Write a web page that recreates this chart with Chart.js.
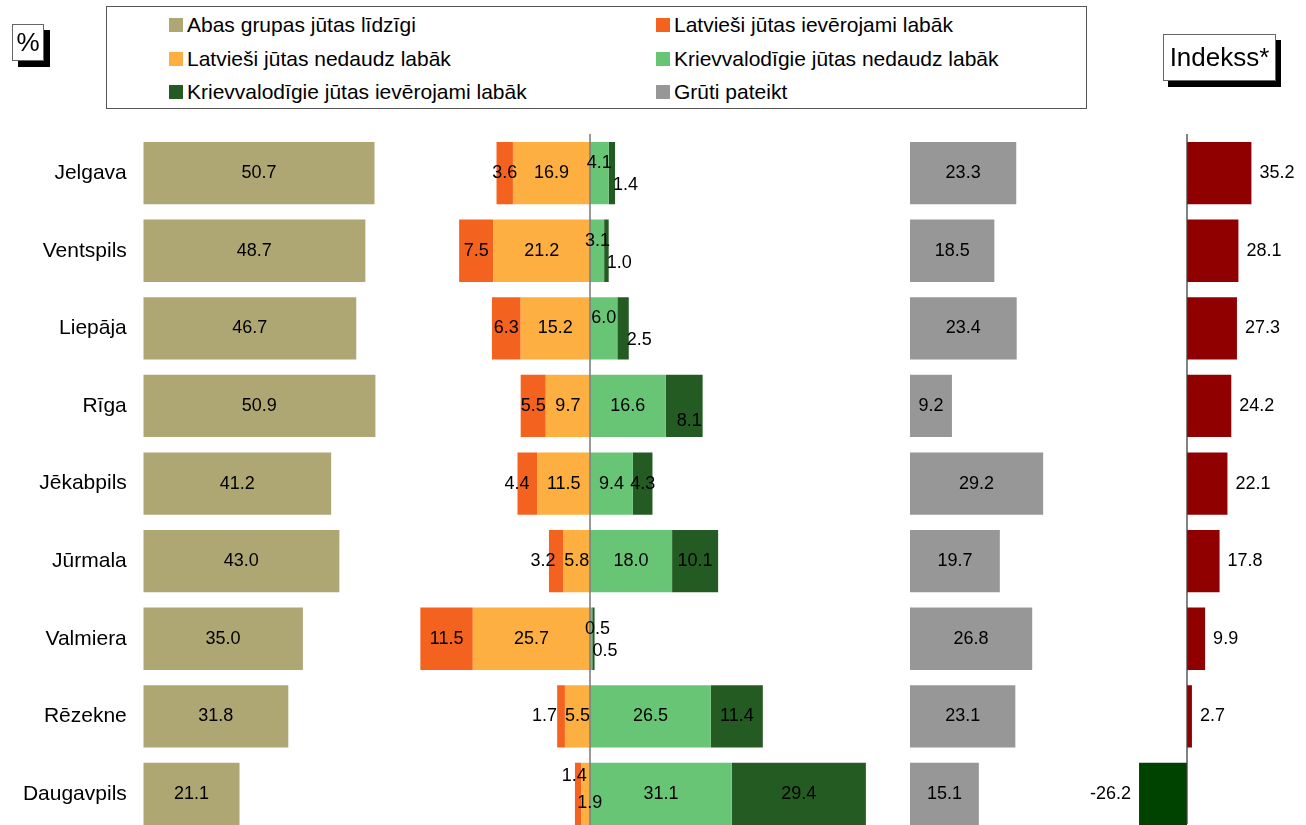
<!DOCTYPE html>
<html lang="lv">
<head>
<meta charset="utf-8">
<title>Indekss</title>
<script src="https://cdn.jsdelivr.net/npm/chart.js@4.4.0/dist/chart.umd.min.js"></script>
<style>
  html, body {
    margin: 0; padding: 0;
    width: 1306px; height: 825px;
    overflow: hidden; background: #fff;
    font-family: "Liberation Sans", Arial, sans-serif;
  }
  canvas { position: absolute; left: 0; top: 0; }
  .box {
    position: absolute; background: #fff; border: 1px solid #666;
    color: #000; text-align: center; z-index: 3;
  }
  #legend {
    position: absolute; left: 106px; top: 6px; width: 979px; height: 101px;
    border: 1px solid #555; background: #fff; z-index: 2;
  }
  .li {
    position: absolute; display: flex; align-items: center;
    font-size: 21px; color: #000; white-space: nowrap; height: 24px;
  }
  .li span.sq { width: 14px; height: 14px; margin-right: 4px; display: inline-block; }
</style>
</head>
<body>

<canvas id="cAbas" width="1306" height="840"></canvas>
<canvas id="cVid" width="1306" height="840"></canvas>
<canvas id="cGruti" width="1306" height="840"></canvas>
<canvas id="cIdx" width="1306" height="840"></canvas>

<div class="box" style="left:12px;top:24px;width:30px;height:35px;line-height:35px;font-size:26px;box-shadow:6px 6px 0 #000;">%</div>
<div class="box" style="left:1163px;top:34px;width:111px;height:45px;line-height:45px;font-size:26px;box-shadow:5px 6px 0 #000;">Indekss*</div>

<div id="legend"></div>

<script>
// =====================================================
// DATI
// =====================================================

const pilsetas = ['Jelgava', 'Ventspils', 'Liepāja', 'Rīga', 'Jēkabpils', 'Jūrmala', 'Valmiera', 'Rēzekne', 'Daugavpils']

const abas       = [50.7, 48.7, 46.7, 50.9, 41.2, 43.0, 35.0, 31.8, 21.1]
const latvIev    = [3.6, 7.5, 6.3, 5.5, 4.4, 3.2, 11.5, 1.7, 1.4]
const latvNed    = [16.9, 21.2, 15.2, 9.7, 11.5, 5.8, 25.7, 5.5, 1.9]
const krievNed   = [4.1, 3.1, 6.0, 16.6, 9.4, 18.0, 0.5, 26.5, 31.1]
const krievIev   = [1.4, 1.0, 2.5, 8.1, 4.3, 10.1, 0.5, 11.4, 29.4]
const gruti      = [23.3, 18.5, 23.4, 9.2, 29.2, 19.7, 26.8, 23.1, 15.1]
const indekss    = [35.2, 28.1, 27.3, 24.2, 22.1, 17.8, 9.9, 2.7, -26.2]

const legendas = [
  ['Abas grupas jūtas līdzīgi',              '#aea673'],
  ['Latvieši jūtas ievērojami labāk',         '#f4621f'],
  ['Latvieši jūtas nedaudz labāk',            '#fdaf41'],
  ['Krievvalodīgie jūtas nedaudz labāk',      '#69c576'],
  ['Krievvalodīgie jūtas ievērojami labāk',   '#245b23'],
  ['Grūti pateikt',                           '#979797']
]

const C_IDX_POS = '#900000'
const C_IDX_NEG = '#004200'

// =====================================================
// IZKĀRTOJUMS
// =====================================================

const W = 1306, H = 840
const TOP = 134.35, BOTTOM = 832.75
const K = 4.56           // px uz 1 procentpunktu (%)
const K_IDX = 1.83       // px uz 1 indeksa punktu
const FONT = '"Liberation Sans", Arial, sans-serif'

Chart.defaults.font.family = FONT
Chart.defaults.color = '#000'

function baseOpts(left, right) {
  return {
    indexAxis: 'y',
    responsive: false,
    animation: false,
    events: [],
    layout: { padding: { left, right: W - right, top: TOP, bottom: H - BOTTOM } },
    datasets: { bar: { barPercentage: 0.803, categoryPercentage: 1 } },
    plugins: { legend: { display: false }, tooltip: { enabled: false } }
  }
}

// ── Vērtību etiķetes ─────────────────────────────
function etiketes(vieta, teksts) {
  return {
    id: 'etiketes',
    afterDatasetsDraw(chart) {
      const ctx = chart.ctx
      ctx.save()
      ctx.font = `18px ${FONT}`
      ctx.fillStyle = '#000'
      ctx.textBaseline = 'middle'
      chart.data.datasets.forEach((ds, di) => {
        chart.getDatasetMeta(di).data.forEach((bar, i) => {
          const p = vieta(di, i, bar)
          ctx.textAlign = p.align || 'center'
          const v = ds.data[i]
          ctx.fillText(teksts ? teksts(v) : Math.abs(v).toFixed(1), p.x, p.y)
        })
      })
      ctx.restore()
    }
  }
}

// ── Kategoriju nosaukumi pa kreisi ───────────────
const kategorijas = {
  id: 'kategorijas',
  afterDatasetsDraw(chart) {
    const ctx = chart.ctx
    ctx.save()
    ctx.font = `21px ${FONT}`
    ctx.fillStyle = '#000'
    ctx.textAlign = 'right'
    ctx.textBaseline = 'middle'
    chart.getDatasetMeta(0).data.forEach((bar, i) => {
      ctx.fillText(chart.data.labels[i], chart.chartArea.left - 16.5, bar.y)
    })
    ctx.restore()
  }
}

// ── Nulles līnija ────────────────────────────────
function nulle(color, width, y0, y1) {
  return {
    id: 'nulle',
    afterDatasetsDraw(chart) {
      const ctx = chart.ctx
      const x = chart.scales.x.getPixelForValue(0)
      ctx.save()
      ctx.strokeStyle = color
      ctx.lineWidth = width
      ctx.beginPath()
      ctx.moveTo(x, y0)
      ctx.lineTo(x, y1)
      ctx.stroke()
      ctx.restore()
    }
  }
}

const centra = (di, i, bar) => ({ x: (bar.x + bar.base) / 2, y: bar.y })

// =====================================================
// 1. ABAS GRUPAS JŪTAS LĪDZĪGI
// =====================================================

new Chart(document.getElementById('cAbas'), {
  type: 'bar',
  data: { labels: pilsetas, datasets: [{ data: abas, backgroundColor: legendas[0][1] }] },
  options: {
    ...baseOpts(143.3, 143.3 + 55 * K),
    scales: {
      x: { display: false, min: 0, max: 55 },
      y: { display: false }
    }
  },
  plugins: [kategorijas, etiketes(centra)]
})

// =====================================================
// 2. KURŠ JŪTAS LABĀK (diverģējošs)
// =====================================================

function vidusVieta(di, i, bar) {
  const cx = (bar.x + bar.base) / 2
  const y = bar.y
  const ev = latvIev[i], ne = latvNed[i], kn = krievNed[i], ki = krievIev[i]
  const abiMazi = ev < 3 && ne < 3

  if (di === 0) {                       // latvieši nedaudz (iekšējais)
    if (abiMazi) return { x: cx + 4, y: y + 9 }
    return { x: cx, y }
  }
  if (di === 1) {                       // latvieši ievērojami (ārējais)
    if (abiMazi) return { x: cx - 4, y: y - 18 }
    if (ev < 5 && ev + ne < 17) return { x: Math.max(bar.x, bar.base) - 8, y, align: 'right' }
    return { x: cx, y }
  }
  const x0 = bar.base
  if (di === 2) {                       // krievvalodīgie nedaudz (iekšējais)
    if (kn < 7) return { x: Math.max(cx, x0 + 7.5), y: y - 10 }
    return { x: cx, y }
  }
  // krievvalodīgie ievērojami (ārējais)
  if (kn < 7) return { x: bar.x - 2, y: y + 12, align: 'left' }
  if (ki < 9 && kn > 15) return { x: cx + 5, y: y + 15 }
  return { x: cx, y }
}

new Chart(document.getElementById('cVid'), {
  type: 'bar',
  data: {
    labels: pilsetas,
    datasets: [
      { data: latvNed.map(v => -v), backgroundColor: legendas[2][1] },
      { data: latvIev.map(v => -v), backgroundColor: legendas[1][1] },
      { data: krievNed,             backgroundColor: legendas[3][1] },
      { data: krievIev,             backgroundColor: legendas[4][1] }
    ]
  },
  options: {
    ...baseOpts(590 - 40 * K, 590 + 66 * K),
    scales: {
      x: { display: false, stacked: true, min: -40, max: 66 },
      y: { display: false, stacked: true }
    }
  },
  plugins: [nulle('#808080', 1.6, 134, 840), etiketes(vidusVieta)]
})

// =====================================================
// 3. GRŪTI PATEIKT
// =====================================================

new Chart(document.getElementById('cGruti'), {
  type: 'bar',
  data: { labels: pilsetas, datasets: [{ data: gruti, backgroundColor: legendas[5][1] }] },
  options: {
    ...baseOpts(910, 910 + 36 * K),
    scales: {
      x: { display: false, min: 0, max: 36 },
      y: { display: false }
    }
  },
  plugins: [etiketes(centra)]
})

// =====================================================
// 4. INDEKSS
// =====================================================

new Chart(document.getElementById('cIdx'), {
  type: 'bar',
  data: {
    labels: pilsetas,
    datasets: [{
      data: indekss,
      backgroundColor: indekss.map(v => v >= 0 ? C_IDX_POS : C_IDX_NEG)
    }]
  },
  options: {
    ...baseOpts(1187 - 40 * K_IDX, 1187 + 50 * K_IDX),
    scales: {
      x: { display: false, min: -40, max: 50 },
      y: { display: false }
    }
  },
  plugins: [
    nulle('#404040', 1.3, 134, 824),
    etiketes(
      (di, i, bar) => indekss[i] >= 0
        ? { x: bar.x + 8, y: bar.y, align: 'left' }
        : { x: bar.x - 8, y: bar.y, align: 'right' },
      v => v.toFixed(1)
    )
  ]
})

// =====================================================
// LEĢENDA
// =====================================================

const legEl = document.getElementById('legend')
const rindas = [25, 59, 92]
const kolonnas = [169, 656]
legendas.forEach(([txt, col], k) => {
  const d = document.createElement('div')
  d.className = 'li'
  d.style.left = (kolonnas[k % 2] - 107) + 'px'
  d.style.top  = (rindas[Math.floor(k / 2)] - 7 - 12) + 'px'
  d.innerHTML = `<span class="sq" style="background:${col}"></span>${txt}`
  legEl.appendChild(d)
})
</script>
</body>
</html>
